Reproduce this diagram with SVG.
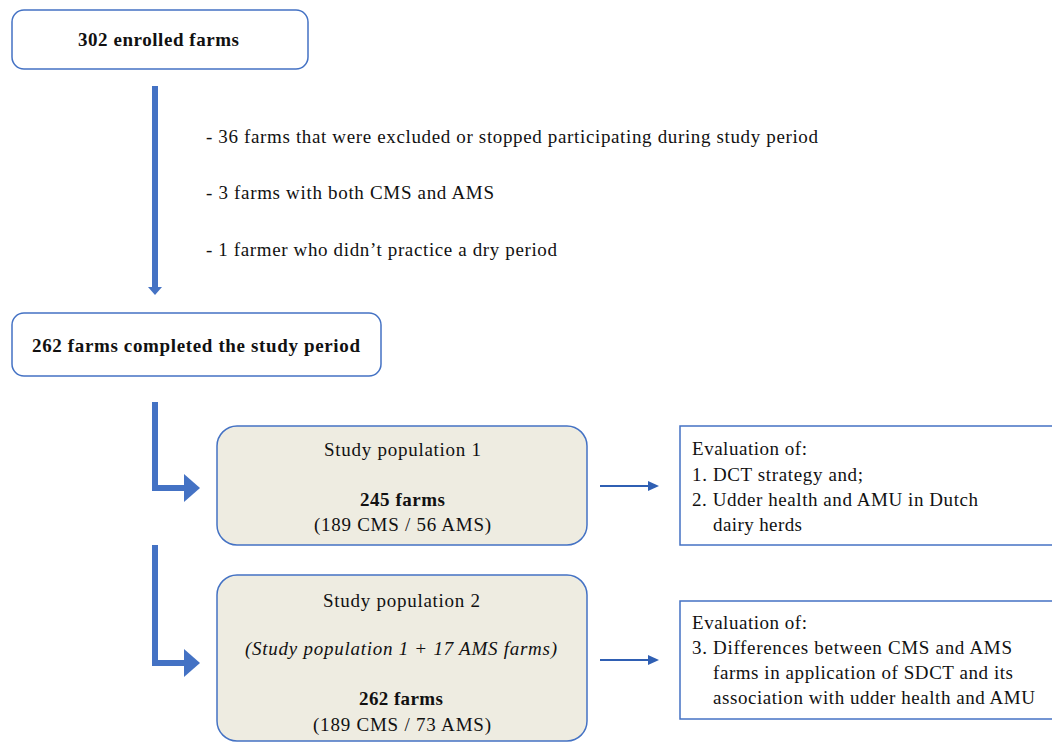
<svg xmlns="http://www.w3.org/2000/svg" width="1052" height="742" viewBox="0 0 1052 742">
<style>
text{font-family:"Liberation Serif","Times New Roman",serif;font-size:19px;fill:#111}
.b{font-weight:bold}
.i{font-style:italic}
.m{text-anchor:middle}
.box{fill:#fff;stroke:#4472C4;stroke-width:1.5}
.pop{fill:#EEECE1;stroke:#4472C4;stroke-width:1.5}
.thick{fill:none;stroke:#4472C4;stroke-width:6}
.thin{fill:none;stroke:#2F5FB3;stroke-width:2}
.head{fill:#4472C4}
.head2{fill:#2F5FB3}
</style>
<rect width="1052" height="742" fill="#fff"/>
<g id="connectors">
<line class="thick" x1="155" y1="86" x2="155" y2="288"/>
<polygon class="head" points="148,287 162,287 155,295"/>
<polyline class="thick" points="155,402 155,488 185,488"/>
<polygon class="head" points="184,474 200,488 184,502"/>
<polyline class="thick" points="155,545 155,663 185,663"/>
<polygon class="head" points="184,649 200,663 184,677"/>
<line class="thin" x1="600" y1="486" x2="650" y2="486"/>
<polygon class="head2" points="648,481 659,486 648,491"/>
<line class="thin" x1="600" y1="660" x2="650" y2="660"/>
<polygon class="head2" points="648,655 659,660 648,665"/>
</g>
<g id="n-enrolled">
<rect class="box" x="12" y="10" width="296" height="59" rx="12"/>
<text class="b" x="78" y="46" textLength="161">302 enrolled farms</text>
</g>
<g id="n-exclusions">
<text x="206" y="143" textLength="612">- 36 farms that were excluded or stopped participating during study period</text>
<text x="206" y="199" textLength="288">- 3 farms with both CMS and AMS</text>
<text x="206" y="256" textLength="351">- 1 farmer who didn’t practice a dry period</text>
</g>
<g id="n-completed">
<rect class="box" x="12" y="313" width="369" height="63" rx="12"/>
<text class="b" x="32" y="352" textLength="328">262 farms completed the study period</text>
</g>
<g id="n-pop1">
<rect class="pop" x="217" y="426" width="370" height="119" rx="20"/>
<text x="324" y="456" textLength="157">Study population 1</text>
<text class="b" x="360" y="506" textLength="85">245 farms</text>
<text x="314" y="531" textLength="177">(189 CMS / 56 AMS)</text>
</g>
<g id="n-pop2">
<rect class="pop" x="217" y="575" width="370" height="166" rx="20"/>
<text x="323" y="607" textLength="157">Study population 2</text>
<text class="i" x="245" y="655" textLength="312">(Study population 1 + 17 AMS farms)</text>
<text class="b" x="359" y="705" textLength="84">262 farms</text>
<text x="313" y="731" textLength="178">(189 CMS / 73 AMS)</text>
</g>
<g id="n-eval1">
<rect class="box" x="680" y="426" width="400" height="119"/>
<text x="692" y="455" textLength="115">Evaluation of:</text>
<text x="692" y="481" textLength="171">1. DCT strategy and;</text>
<text x="692" y="506" textLength="286">2. Udder health and AMU in Dutch</text>
<text x="713" y="531" textLength="89">dairy herds</text>
</g>
<g id="n-eval2">
<rect class="box" x="680" y="601" width="400" height="118"/>
<text x="692" y="629" textLength="115">Evaluation of:</text>
<text x="692" y="654" textLength="320">3. Differences between CMS and AMS</text>
<text x="713" y="679" textLength="300">farms in application of SDCT and its</text>
<text x="713" y="704" textLength="322">association with udder health and AMU</text>
</g>
</svg>
